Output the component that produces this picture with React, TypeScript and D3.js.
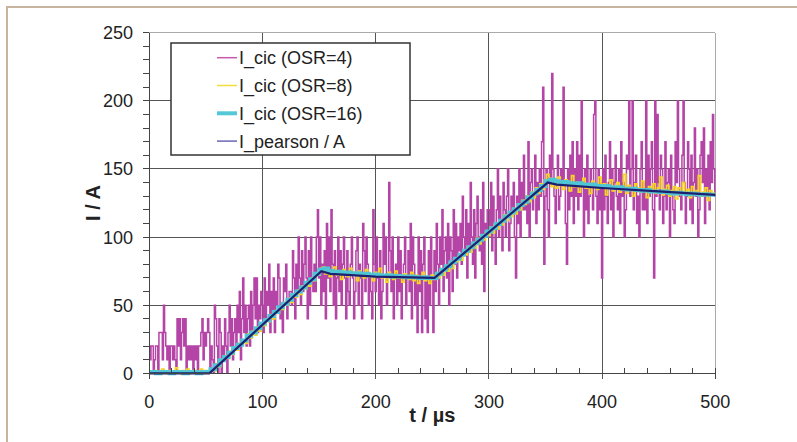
import React, { useRef, useEffect } from 'react';
import * as d3 from 'd3';

// I_cic (OSR=4): one sample per µs, each char is the level in tens of A (base 36)
const osr4Levels = [
  '2122012203331532120221210',
  '4241342402121202120223413',
  '2343021054204302142035241',
  '3425361473524526357473546',
  '5374658364736587453768456',
  '6597486a75968a7495a7686ac',
  '7a58694b7a6c85947a6958a74',
  '9658a7469a5874b96a85764c8',
  '6a75946b8a57e96a4785a6947',
  '8a5796b4a8573a6938a47395a',
  '7396b85a8c69a7b5a96c8b7a9',
  'b8da9c7b9ea8c7bda9c8e6bac',
  'cae9db8cfadb9ecadf9bdcea7',
  'dbfaecgcdbhaefcdgbecfdhl8',
  'dfcagemfdbegcdfeleb8fcgdh',
  'bfdhcgdkeafcgbdfecjkdbfce',
  '7fcgdbehcfaegdcfbhdeacgfk',
  'dfkcegbdafhceckbgdfhc7kdj',
  'ecgfbdhcefagdcbhekfdcgkeb',
  'dhfcgbeidfacgheibfdgchejfd',
];

// I_cic (OSR=8): one sample every 2 µs
const osr8Flat = [0, 1, 0, 2, 1, 0, 3, 1, 0, 2, 0, 1, 4, 1, 0, 2, 1, 3, 0, 1, 2, 0, 1, 3, 0, 2, 1];
const osr8Rise1 = [
  1, 3, 2, 7, 5, 10, 9, 13, 11, 16, 14, 19, 17, 22, 21, 24, 22, 29, 26, 31, 28, 34, 31, 37, 35,
  40, 38, 43, 40, 46, 44, 49, 47, 52, 50, 55, 52, 58, 56, 61, 58, 64, 62, 67, 64, 70, 68, 73, 72, 77,
];
const osr8Hold1 = [
  78, 73, 76, 71, 75, 78, 72, 74, 69, 76, 73, 71, 77, 72, 74, 68, 75, 73, 70, 76, 71, 73, 68, 74, 72,
  77, 70, 72, 67, 74, 71, 69, 75, 70, 72, 67, 73, 71, 69, 74, 68, 72, 66, 71, 74, 68, 70, 66, 72, 69,
];
const osr8Rise2 = [
  73, 70, 76, 72, 79, 75, 81, 77, 84, 82, 86, 83, 90, 87, 93, 89, 95, 92, 99, 95, 101, 98, 104, 101, 107,
  103, 110, 106, 112, 109, 116, 112, 118, 115, 121, 117, 124, 120, 127, 124, 130, 126, 133, 129, 136, 132, 139, 135, 142, 146,
];
const osr8Hold2 = [
  143, 137, 141, 136, 144, 138, 135, 142, 139, 134, 145, 137, 140, 133, 139, 143, 136, 138, 132, 141,
  137, 135, 144, 136, 139, 131, 138, 142, 134, 137, 140, 133, 136, 146, 132, 138, 135, 130, 139, 136,
  133, 141, 135, 129, 137, 134, 139, 132, 136, 144, 131, 135, 138, 130, 134, 137, 128, 136, 133, 140,
  131, 135, 129, 137, 132, 134, 145, 130, 133, 136, 127, 134, 131, 132,
];

// I_cic (OSR=16): one sample every 4 µs
const osr16Flat = [1, 1, 0, 1, 1, 0, 1, 1, 0, 1, 1, 0, 1, 1];
const osr16Rise1 = [3, 6, 9.5, 12, 15, 18.5, 21, 24, 27.5, 30, 33, 36.5, 39, 42, 45, 48.5, 51, 54, 57.5, 60, 63, 66.5, 69, 73, 76];
const osr16Hold1 = [77, 75, 74, 74.5, 73.5, 74, 73, 73.5, 72.5, 73, 72, 72.5, 72, 71.5, 72, 71, 71.5, 71, 70.5, 71, 70.5, 70, 70.5, 70, 70];
const osr16Rise2 = [73, 76, 78.5, 81.5, 84, 87, 90, 92.5, 95.5, 98, 101, 104, 106.5, 109.5, 112, 115, 118, 120.5, 123.5, 126, 129, 132, 134.5, 137.5, 141];
const osr16Hold2 = [
  142, 141, 140, 140.5, 139.5, 139, 139.5, 138.5, 138, 138.5, 137.5, 137, 137.5, 136.5, 136, 136.5, 135.5, 135, 135.5,
  134.5, 134, 134.5, 133.5, 133.5, 133, 133.5, 132.5, 132, 132.5, 132, 131.5, 132, 131.5, 131, 131.5, 131, 131,
];

// I_pearson corner points
const pearsonTimes = [0, 53, 152, 160, 200, 252, 352, 360, 400, 450, 500];
const pearsonValues = [0, 0, 75, 73, 71, 70, 140, 138.5, 136, 133.5, 131];

const xTicks = [0, 100, 200, 300, 400, 500];
const yTicks = [0, 50, 100, 150, 200, 250];
const legendLabels = ['I_cic (OSR=4)', 'I_cic (OSR=8)', 'I_cic (OSR=16)', 'I_pearson / A'];
const legendColors = ['#c65aae', '#f2dc3a', '#55c8d8', '#6b67b2'];

const width = 797;
const height = 442;
const plot = { left: 149.3, right: 715.3, top: 32.7, bottom: 373.3 };
const font = "'Liberation Sans', Arial, sans-serif";

const toPoints = (vals) => vals.map((v, i) => [(i * 500) / (vals.length - 1), v]);

const App = () => {
  const svgRef = useRef();

  useEffect(() => {
    const svg = d3.select(svgRef.current);
    svg.selectAll('*').remove();

    const x = d3.scaleLinear().domain([0, 500]).range([plot.left, plot.right]);
    const y = d3.scaleLinear().domain([0, 250]).range([plot.bottom, plot.top]);

    // outer frame
    svg.append('rect')
      .attr('x', 7).attr('y', 7).attr('width', 800).attr('height', 450)
      .attr('fill', 'none').attr('stroke', '#c7b59f').attr('stroke-width', 2);

    // grid
    const grid = svg.append('g').attr('stroke-width', 1).attr('shape-rendering', 'crispEdges');
    xTicks.filter(t => t > 0 && t < 500).forEach(t => {
      grid.append('line').attr('x1', x(t)).attr('x2', x(t)).attr('y1', plot.top).attr('y2', plot.bottom + 6).attr('stroke', '#555');
    });
    yTicks.filter(t => t > 0 && t < 250).forEach(t => {
      grid.append('line').attr('x1', plot.left - 6).attr('x2', plot.right).attr('y1', y(t)).attr('y2', y(t)).attr('stroke', '#555');
    });
    grid.append('line').attr('x1', plot.left - 6).attr('x2', plot.right).attr('y1', y(250)).attr('y2', y(250)).attr('stroke', '#aaa');
    grid.append('line').attr('x1', x(500)).attr('x2', x(500)).attr('y1', plot.top).attr('y2', plot.bottom).attr('stroke', '#aaa');

    // series
    const line = d3.line().x(d => x(d[0])).y(d => y(d[1]));
    const step = d3.line().x(d => x(d[0])).y(d => y(d[1])).curve(d3.curveStep);
    const osr4 = osr4Levels.join('').split('').map(c => parseInt(c, 36) * 10);
    const osr8 = [...osr8Flat, ...osr8Rise1, ...osr8Hold1, ...osr8Rise2, ...osr8Hold2];
    const osr16 = [...osr16Flat, ...osr16Rise1, ...osr16Hold1, ...osr16Rise2, ...osr16Hold2];
    const pearson = pearsonTimes.map((t, i) => [t, pearsonValues[i]]);

    svg.append('path').attr('d', step(toPoints(osr4))).attr('fill', 'none')
      .attr('stroke', '#b444a6').attr('stroke-width', 1.5);
    svg.append('path').attr('d', step(toPoints(osr8))).attr('fill', 'none')
      .attr('stroke', '#f6d328').attr('stroke-width', 1.8);
    svg.append('path').attr('d', step(toPoints(osr16))).attr('fill', 'none')
      .attr('stroke', '#4ec6d6').attr('stroke-width', 4);
    svg.append('path').attr('d', line(pearson)).attr('fill', 'none')
      .attr('stroke', '#1d2170').attr('stroke-width', 2.2);

    // axes
    const axes = svg.append('g').attr('stroke', '#444').attr('stroke-width', 1).attr('shape-rendering', 'crispEdges');
    axes.append('line').attr('x1', plot.left).attr('x2', plot.left).attr('y1', plot.top).attr('y2', plot.bottom + 6);
    axes.append('line').attr('x1', plot.left).attr('x2', plot.right).attr('y1', plot.bottom).attr('y2', plot.bottom);
    axes.append('line').attr('x1', x(500)).attr('x2', x(500)).attr('y1', plot.bottom - 5).attr('y2', plot.bottom + 6);
    d3.range(0, 251, 10).forEach(v => {
      axes.append('line').attr('x1', plot.left - 6).attr('x2', plot.left).attr('y1', y(v)).attr('y2', y(v));
    });
    d3.range(20, 500, 20).filter(v => v % 100 !== 0).forEach(v => {
      axes.append('line').attr('x1', x(v)).attr('x2', x(v)).attr('y1', plot.bottom - 5).attr('y2', plot.bottom);
    });

    // tick labels
    svg.append('g').selectAll('text').data(yTicks).enter().append('text')
      .attr('x', 133).attr('y', d => y(d)).attr('dy', '0.36em')
      .attr('text-anchor', 'end').attr('font-family', font).attr('font-size', 18).attr('fill', '#222')
      .text(d => d);
    svg.append('g').selectAll('text').data(xTicks).enter().append('text')
      .attr('x', d => x(d)).attr('y', 407.5)
      .attr('text-anchor', 'middle').attr('font-family', font).attr('font-size', 18).attr('fill', '#222')
      .text(d => d);

    // axis titles
    svg.append('text')
      .attr('transform', `translate(100,${(plot.top + plot.bottom) / 2}) rotate(-90)`)
      .attr('text-anchor', 'middle').attr('font-family', font).attr('font-size', 20).attr('font-weight', 'bold').attr('fill', '#222')
      .text('I / A');
    svg.append('text')
      .attr('x', (plot.left + plot.right) / 2).attr('y', 422)
      .attr('text-anchor', 'middle').attr('font-family', font).attr('font-size', 20).attr('font-weight', 'bold').attr('fill', '#222')
      .text('t / µs');

    // legend
    const legend = svg.append('g');
    legend.append('rect')
      .attr('x', 171).attr('y', 43).attr('width', 239).attr('height', 112)
      .attr('fill', '#fff').attr('stroke', '#333').attr('stroke-width', 1.5);
    legendLabels.forEach((label, i) => {
      const ry = 57.7 + i * 27.8;
      legend.append('line').attr('x1', 217).attr('x2', 237).attr('y1', ry).attr('y2', ry)
        .attr('stroke', legendColors[i]).attr('stroke-width', i === 2 ? 4 : 1.5);
      legend.append('text').attr('x', 239).attr('y', ry).attr('dy', '0.36em')
        .attr('font-family', font).attr('font-size', 18).attr('fill', '#222')
        .text(label);
    });
  }, []);

  return (
    <svg ref={svgRef} width={width} height={height}
      style={{ position: 'absolute', left: 0, top: 0, background: '#fff' }}></svg>
  );
};

export default App;
